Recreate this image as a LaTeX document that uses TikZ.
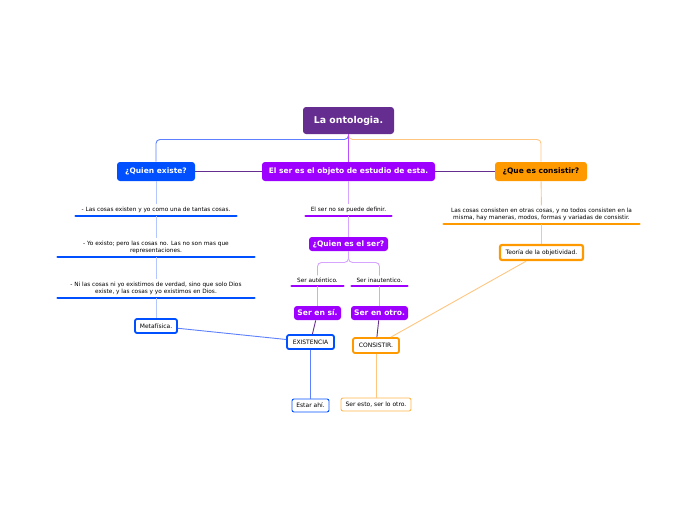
\documentclass[tikz,border=0pt]{standalone}
\usepackage{fontspec}
\setmainfont{DejaVu Sans}
\definecolor{rootc}{HTML}{662D91}
\definecolor{cblue}{HTML}{0050FF}
\definecolor{cviolet}{HTML}{9E00FF}
\definecolor{corange}{HTML}{FF9900}
\definecolor{lblue}{HTML}{B3C6FF}
\definecolor{mblue}{HTML}{5C80FF}
\definecolor{lviolet}{HTML}{D6A5FF}
\definecolor{lorange}{HTML}{FFC680}
\begin{document}
\begin{tikzpicture}[x=1pt,y=-1pt,line width=.9pt,
    topic/.style={rounded corners=3pt,text=white,inner sep=0pt,font=\bfseries\fontsize{7.5}{8.5}\selectfont},
    idea/.style={align=center,inner xsep=0pt,inner ysep=2.5pt,anchor=south,font=\fontsize{5.8}{7}\selectfont},
    leaf/.style={draw,fill=white,rounded corners=2pt,inner sep=0pt,font=\fontsize{6}{7}\selectfont},
    uline/.style={line width=2.4pt,line cap=round}]
    \useasboundingbox (0,0) rectangle (697,520);
    % main topics
    \node[topic,fill=rootc,minimum width=91pt,minimum height=27pt,font=\bfseries\fontsize{9.4}{11}\selectfont] (root) at (348.5,120.5) {La ontologia.};
    \node[topic,fill=cblue,minimum width=78pt,minimum height=19pt] (quien) at (156,171.5) {¿Quien existe?};
    \node[topic,fill=cviolet,minimum width=173pt,minimum height=19pt] (ser) at (348.5,171.5) {El ser es el objeto de estudio de esta.};
    \node[topic,fill=corange,text=black,minimum width=92pt,minimum height=19pt] (que) at (541,171.5) {¿Que es consistir?};
    % underlined ideas
    \node[idea,minimum width=160pt] (cosas) at (156,216) {- Las cosas existen y yo como una de tantas cosas.};
    \node[idea,minimum width=196pt] (existo) at (156,257) {- Yo existo; pero las cosas no. Las no son mas que\\representaciones.};
    \node[idea,minimum width=196pt] (dios) at (156,298) {- Ni las cosas ni yo existimos de verdad, sino que solo Dios\\existe, y las cosas y yo existimos en Dios.};
    \node[idea,minimum width=85pt] (definir) at (348.5,216) {El ser no se puede definir.};
    \node[idea,minimum width=51pt] (autentico) at (317.5,286) {Ser auténtico.};
    \node[idea,minimum width=55pt] (inautentico) at (379.5,286) {Ser inautentico.};
    \node[idea,minimum width=195pt] (consisten) at (541.5,224) {Las cosas consisten en otras cosas, y no todos consisten en la\\misma, hay maneras, modos, formas y variadas de consistir.};
    \foreach \n/\c in {cosas/cblue,existo/cblue,dios/cblue,definir/cviolet,autentico/cviolet,inautentico/cviolet,consisten/corange}
        \draw[uline,\c] (\n.south west) -- (\n.south east);
    % sub topics
    \node[topic,fill=cviolet,minimum width=79pt,minimum height=14pt] (quienser) at (348.5,244) {¿Quien es el ser?};
    \node[topic,fill=cviolet,minimum width=47pt,minimum height=14pt,font=\bfseries\fontsize{7.6}{8.5}\selectfont] (ensi) at (317.5,313) {Ser en sí.};
    \node[topic,fill=cviolet,minimum width=57pt,minimum height=14pt,font=\bfseries\fontsize{7.6}{8.5}\selectfont] (enotro) at (379.5,313) {Ser en otro.};
    % boxes
    \node[leaf,draw=cblue,line width=1.8pt,minimum width=42pt,minimum height=14pt] (meta) at (156,326) {Metafísica.};
    \node[leaf,draw=cblue,line width=1.8pt,minimum width=47pt,minimum height=14pt] (existencia) at (310.5,342) {EXISTENCIA};
    \node[leaf,draw=corange,line width=1.8pt,minimum width=46pt,minimum height=15pt] (consistir) at (376,345.5) {CONSISTIR.};
    \node[leaf,draw=corange,line width=2.2pt,minimum width=83pt,minimum height=15pt] (teoria) at (541.5,252.5) {Teoría de la objetividad.};
    \node[leaf,draw=cblue,line width=.9pt,minimum width=37pt,minimum height=13pt] (estar) at (310.5,405.5) {Estar ahí.};
    \node[leaf,draw=corange!70,line width=.9pt,minimum width=70pt,minimum height=13pt] (esto) at (376,404.5) {Ser esto, ser lo otro.};
    % connectors
    \draw[mblue,rounded corners=4pt] (root.south) -- ++(0,5) -| (quien.north);
    \draw[lorange,rounded corners=4pt] (root.south) -- ++(0,5) -| (que.north);
    \draw[cviolet!70] (root.south) -- (ser.north);
    \draw[rootc,line width=1.1pt] (quien) -- (ser);
    \draw[rootc,line width=1.1pt] (ser) -- (que);
    \draw[lblue] (quien) -- (cosas);
    \draw[lblue] (cosas) -- (existo);
    \draw[lblue] (existo) -- (dios);
    \draw[lblue] (dios) -- (meta);
    \draw[mblue] (meta) -- (existencia);
    \draw[mblue] (existencia) -- (estar);
    \draw[lviolet] (ser) -- (definir);
    \draw[lviolet] (definir) -- (quienser);
    \draw[lviolet,rounded corners=4pt] (quienser.south) -- ++(0,11) -| (autentico.north);
    \draw[lviolet,rounded corners=4pt] (quienser.south) -- ++(0,11) -| (inautentico.north);
    \draw[lviolet] (autentico) -- (ensi);
    \draw[lviolet] (inautentico) -- (enotro);
    \draw[rootc] (ensi) -- (existencia);
    \draw[rootc] (enotro) -- (consistir);
    \draw[lorange] (que) -- (consisten);
    \draw[lorange] (consisten) -- (teoria);
    \draw[lorange] (teoria) -- (consistir);
    \draw[lorange] (consistir) -- (esto);
\end{tikzpicture}
\end{document}
